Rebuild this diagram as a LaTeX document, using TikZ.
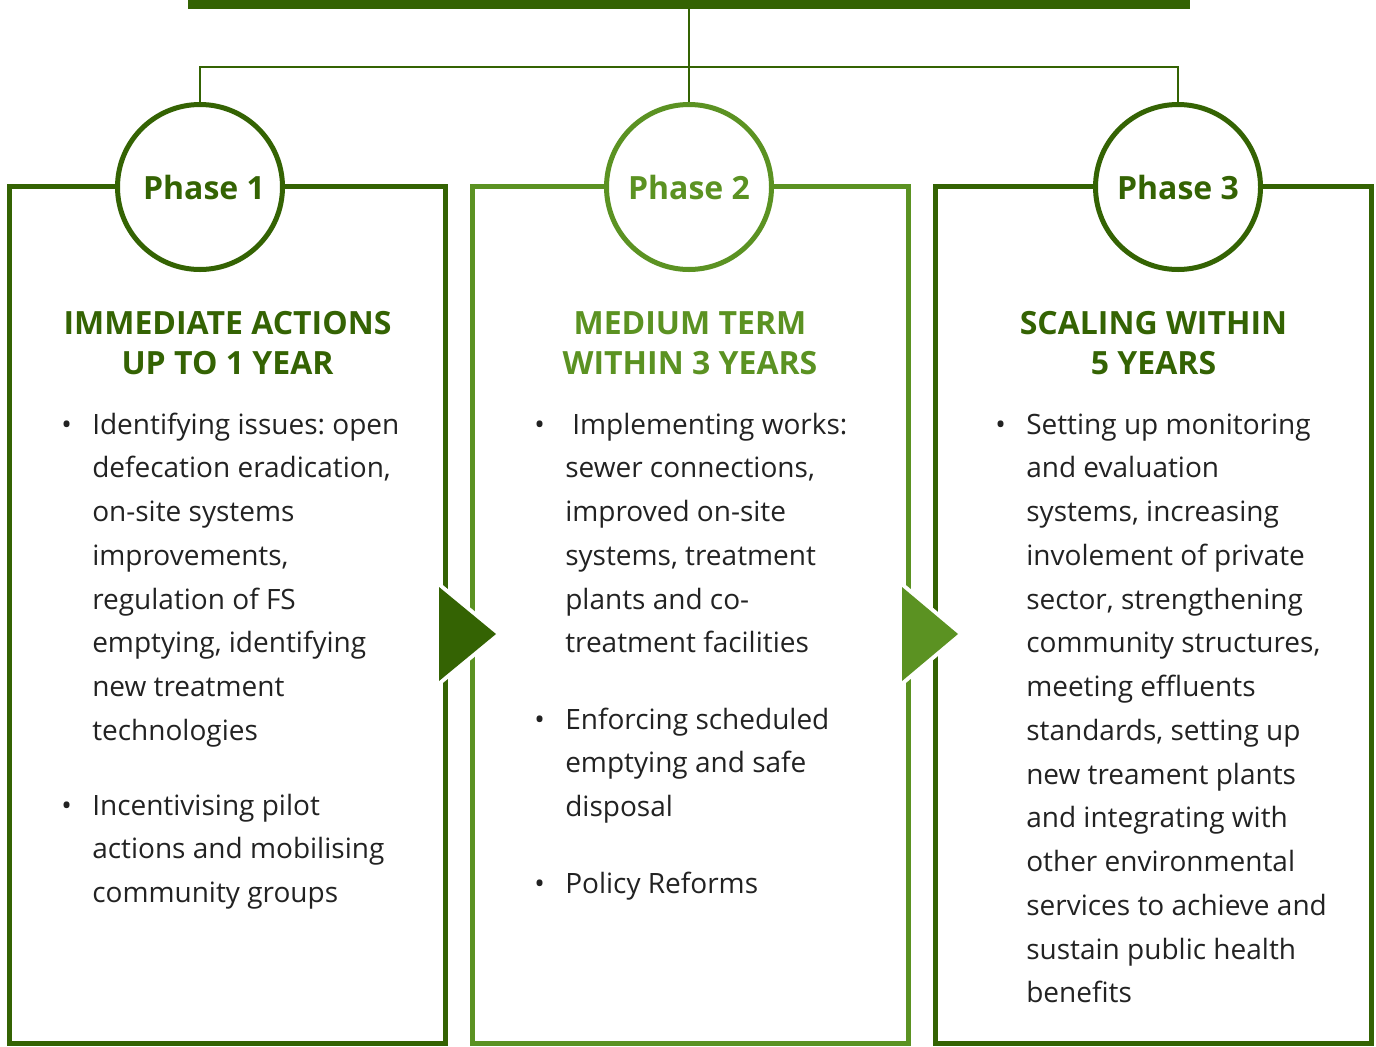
\documentclass[tikz,border=0pt]{standalone}
\usepackage{fontspec}
\setmainfont{Open Sans}
\frenchspacing
\definecolor{dg}{RGB}{52,99,3}
\definecolor{lg}{RGB}{91,146,34}
\definecolor{txt}{RGB}{34,34,34}
\newcommand\bulletlines[4]{%
  \foreach \t [count=\i from 0] in {#4} {\node[body] (#1-\i) at (#2,{#3+\i*43.75}) {\t};}}
\begin{document}
\begin{tikzpicture}[x=0.75pt,y=-0.75pt,
  conn/.style={draw=dg,line width=1.9pt},
  boxline/.style={line width=3.75pt},
  phase/.style={circle,draw,fill=white,line width=3.75pt,minimum size=123.75pt,inner sep=0pt,font=\fontsize{24}{28}\selectfont\bfseries},
  title/.style={anchor=base,inner sep=0pt,font=\fontsize{24}{28}\selectfont\bfseries},
  body/.style={anchor=base west,inner sep=0pt,font=\fontsize{21}{24}\selectfont,text=txt},
  halo/.style={draw=white,line width=6pt,line join=round}]
\useasboundingbox (0,0) rectangle (1376,1046);
% top bar
\node[fill=dg,inner sep=0pt,minimum width=751.5pt,minimum height=6.5pt,anchor=north] (bar) at (689,0) {};
% boxes
\draw[boxline,draw=dg] (9.5,186.5) rectangle (445.5,1043.5);
\draw[boxline,draw=lg] (472,186.5) rectangle (908.5,1043.5);
\draw[boxline,draw=dg] (935.5,186.5) rectangle (1371.5,1043.5);
% circles
\node[phase,draw=dg,text=dg] (p1) at (200,187) {\hspace{6pt}Phase 1};
\node[phase,draw=lg,text=lg] (p2) at (689,187) {Phase 2};
\node[phase,draw=dg,text=dg] (p3) at (1178,187) {Phase 3};
% connectors
\coordinate (hy) at (689,67);
\draw[conn] (bar.south) -- (p2.north);
\draw[conn] (p1.north) -- (p1.north |- hy) -- (p3.north |- hy) -- (p3.north);
% arrows
\draw[halo] (439,587) -- (496,634) -- (439,681) -- cycle;
\fill[dg] (439,587) -- (496,634) -- (439,681) -- cycle;
\draw[halo] (902,587) -- (958,634) -- (902,681) -- cycle;
\fill[lg] (902,587) -- (958,634) -- (902,681) -- cycle;
% titles
\node[title,text=dg] (t1a) at (227.5,334) {IMMEDIATE ACTIONS};
\node[title,text=dg] (t1b) at (227.5,374) {UP TO 1 YEAR};
\node[title,text=lg] (t2a) at (690,334) {MEDIUM TERM};
\node[title,text=lg] (t2b) at (690,374) {WITHIN 3 YEARS};
\node[title,text=dg] (t3a) at (1153.5,334) {SCALING WITHIN};
\node[title,text=dg] (t3b) at (1153.5,374) {5 YEARS};
% bullets
\node[body] (d1a) at (61,434) {•};
\node[body] (d1b) at (61,815) {•};
\node[body] (d2a) at (534,434) {•};
\node[body] (d2b) at (534,729) {•};
\node[body] (d2c) at (534,893) {•};
\node[body] (d3a) at (995,434) {•};
% body texts
\bulletlines{a1}{92}{434}{{Identifying issues: open},{defecation eradication,},{on-site systems},{improvements,},{regulation of FS},{emptying, identifying},{new treatment},{technologies}}
\bulletlines{a2}{92}{815}{{Incentivising pilot},{actions and mobilising},{community groups}}
\node[body] (b1-0) at (572,434) {Implementing works:};
\bulletlines{b1}{565}{477.75}{{sewer connections,},{improved on-site},{systems, treatment},{plants and co-},{treatment facilities}}
\bulletlines{b2}{565}{729}{{Enforcing scheduled},{emptying and safe},{disposal}}
\node[body] (b3-0) at (565,893) {Policy Reforms};
\bulletlines{c1}{1026}{434}{{Setting up monitoring},{and evaluation},{systems, increasing},{involement of private},{sector, strengthening},{community structures,},{meeting effluents},{standards, setting up},{new treament plants},{and integrating with},{other environmental},{services to achieve and},{sustain public health},{benefits}}
\end{tikzpicture}
\end{document}
